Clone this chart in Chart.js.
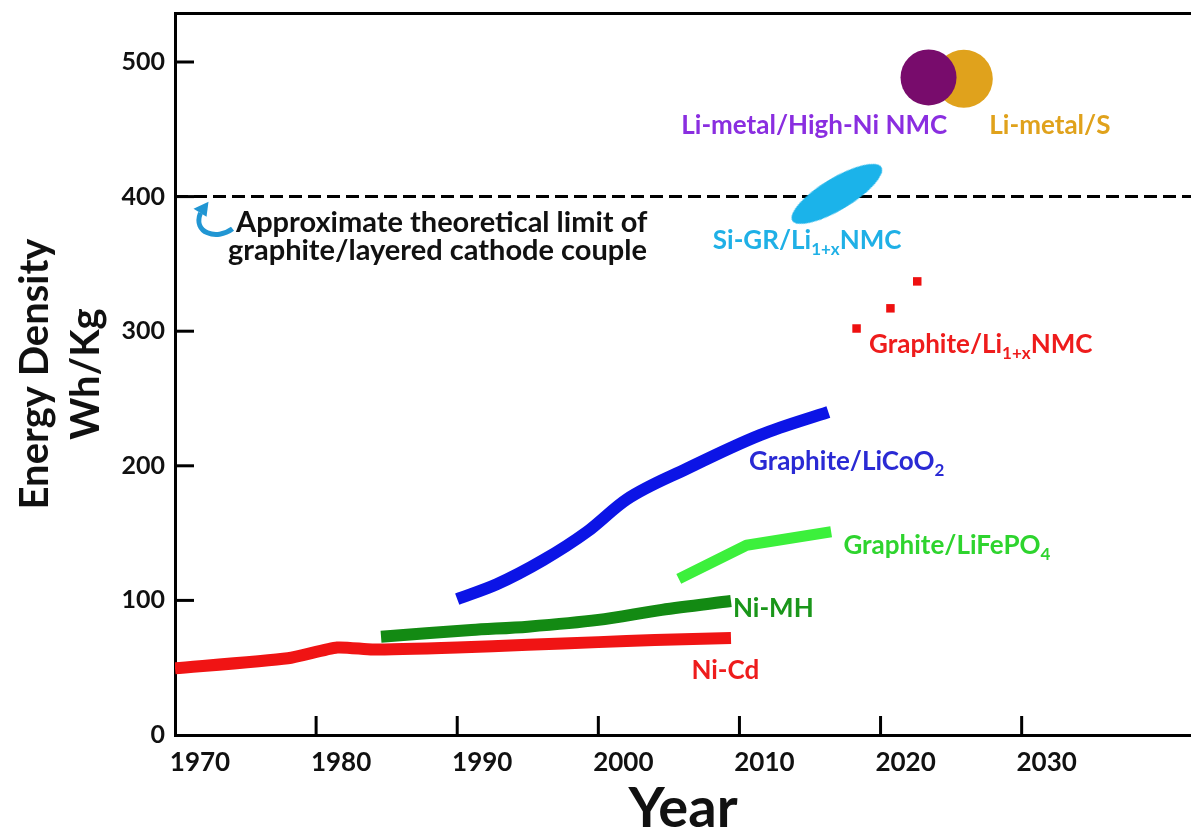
<!DOCTYPE html>
<html>
<head>
<meta charset="utf-8">
<script src="https://cdn.jsdelivr.net/npm/chart.js@4.4.1/dist/chart.umd.min.js"></script>
<style>
  html, body { margin: 0; padding: 0; background: #fff; }
  #c { display: block; }
</style>
</head>
<body>
<canvas id="c" width="1191" height="840"></canvas>
<script>
// ticks
const xTicks = [1970, 1980, 1990, 2000, 2010, 2020, 2030];
const yTicks = [0, 100, 200, 300, 400, 500];

// Ni-Cd
const niCdYears = [1970, 1978, 1981.5, 1984, 1990, 1995, 2000, 2004, 2009.4];
const niCdWh = [49.5, 57, 65, 63.5, 65, 67, 69, 70.5, 72];
// Ni-MH
const niMhYears = [1984.6, 1991, 1995, 2000, 2004.5, 2009.4];
const niMhWh = [73, 78, 80.5, 85.5, 93, 99.5];
// Graphite/LiCoO2
const licoYears = [1990, 1992.8, 1996.1, 1999.2, 2002, 2006.3, 2011.5, 2016.3];
const licoWh = [101, 112, 130, 151, 175, 198, 223, 240];
// Graphite/LiFePO4
const lfpYears = [2005.7, 2010.5, 2016.5];
const lfpWh = [116, 141, 151];
// Graphite/Li1+xNMC squares
const nmcYears = [2018.3, 2020.7, 2022.6];
const nmcWh = [302, 317, 337];
// Si-GR/Li1+xNMC ellipse
const siGrYears = [2016.9];
const siGrWh = [402];
// Li-metal cells
const liNmcYears = [2023.4];
const liNmcWh = [488.5];
const liSYears = [2025.9];
const liSWh = [487.5];
// theoretical limit
const limitYears = [1970, 2042];
const limitWh = [400, 400];

function pts(xs, ys) {
  return xs.map(function (x, i) { return { x: x, y: ys[i] }; });
}

// ellipse used as point style for the Si-GR blob
const ellipse = document.createElement('canvas');
ellipse.width = 106;
ellipse.height = 34;
(function () {
  const g = ellipse.getContext('2d');
  g.fillStyle = '#1bb3ea';
  g.beginPath();
  g.ellipse(53, 17, 52, 16, 0, 0, Math.PI * 2);
  g.fill();
})();

// text labels, positioned in data units
const notes = [
  { parts: [['Li-metal/High-Ni NMC']], x: 2015.3, y: 453, color: '#8a2ee0', size: 26 },
  { parts: [['Li-metal/S']], x: 2032.0, y: 453, color: '#e0a21c', size: 26 },
  { parts: [['Si-GR/Li'], ['1+x', 1], ['NMC']], x: 2014.8, y: 367, color: '#1fb0e6', size: 26 },
  { parts: [['Graphite/Li'], ['1+x', 1], ['NMC']], x: 2027.1, y: 290, color: '#ee1c1c', size: 26 },
  { parts: [['Graphite/LiCoO'], ['2', 1]], x: 2017.6, y: 203, color: '#2a2ad4', size: 26 },
  { parts: [['Graphite/LiFePO'], ['4', 1]], x: 2024.7, y: 141, color: '#2ed42e', size: 26 },
  { parts: [['Ni-MH']], x: 2012.4, y: 94, color: '#1a961a', size: 26 },
  { parts: [['Ni-Cd']], x: 2009.0, y: 48, color: '#ee1c1c', size: 26 },
  { parts: [['Approximate theoretical limit of']], x: 1988.9, y: 381, color: '#111', size: 29 },
  { parts: [['graphite/layered cathode couple']], x: 1988.6, y: 359.5, color: '#111', size: 29 }
];
const arrowAt = { x: 1972.8, y: 382 };

const FONT = 'Lato, "Open Sans", sans-serif';

function noPad(s) {
  s.paddingTop = 0; s.paddingBottom = 0; s.paddingLeft = 0; s.paddingRight = 0;
}

const notesPlugin = {
  id: 'notes',
  beforeDraw(chart) {
    const ctx = chart.ctx;
    ctx.save();
    ctx.fillStyle = '#fff';
    ctx.fillRect(0, 0, chart.width, chart.height);
    ctx.restore();
  },
  afterDraw(chart) {
    const ctx = chart.ctx;
    const xs = chart.scales.x, ys = chart.scales.y;
    const area = chart.chartArea;
    ctx.save();
    // inner tick marks
    ctx.strokeStyle = '#000';
    ctx.lineWidth = 3;
    xTicks.forEach(function (v) {
      if (v === xs.min) return;
      const px = xs.getPixelForValue(v);
      ctx.beginPath();
      ctx.moveTo(px, area.bottom);
      ctx.lineTo(px, area.bottom - 19);
      ctx.stroke();
    });
    yTicks.forEach(function (v) {
      if (v === 0) return;
      const py = ys.getPixelForValue(v);
      ctx.beginPath();
      ctx.moveTo(area.left, py);
      ctx.lineTo(area.left + 19, py);
      ctx.stroke();
    });

    // labels
    ctx.textBaseline = 'middle';
    ctx.textAlign = 'left';
    notes.forEach(function (n) {
      const sub = Math.round(n.size * 0.64);
      let total = 0;
      n.parts.forEach(function (p) {
        ctx.font = 'bold ' + (p[1] ? sub : n.size) + 'px ' + FONT;
        total += ctx.measureText(p[0]).width;
      });
      let px = xs.getPixelForValue(n.x) - total / 2;
      const py = ys.getPixelForValue(n.y);
      ctx.fillStyle = n.color;
      n.parts.forEach(function (p) {
        ctx.font = 'bold ' + (p[1] ? sub : n.size) + 'px ' + FONT;
        ctx.fillText(p[0], px, p[1] ? py + 9 : py);
        px += ctx.measureText(p[0]).width;
      });
    });

    // curved arrow pointing at the limit line
    const ax = xs.getPixelForValue(arrowAt.x), ay = ys.getPixelForValue(arrowAt.y);
    ctx.strokeStyle = '#2196d3';
    ctx.fillStyle = '#2196d3';
    ctx.lineWidth = 5;
    ctx.beginPath();
    ctx.moveTo(ax + 18, ay + 8);
    ctx.bezierCurveTo(ax + 2, ay + 20, ax - 22, ay + 12, ax - 14, ay - 8);
    ctx.stroke();
    ctx.beginPath();
    ctx.moveTo(ax - 6, ay - 19);
    ctx.lineTo(ax - 21, ay - 12);
    ctx.lineTo(ax - 8, ay - 4);
    ctx.closePath();
    ctx.fill();
    ctx.restore();
  }
};

const thick = { pointRadius: 0, borderCapStyle: 'butt', borderJoinStyle: 'round', fill: false };

new Chart(document.getElementById('c'), {
  type: 'line',
  data: {
    datasets: [
      Object.assign({ label: 'Ni-Cd', data: pts(niCdYears, niCdWh), borderColor: '#f01414', borderWidth: 12, tension: 0.2, order: 5 }, thick),
      Object.assign({ label: 'Ni-MH', data: pts(niMhYears, niMhWh), borderColor: '#138a13', borderWidth: 12, tension: 0.3, order: 5 }, thick),
      Object.assign({ label: 'Graphite/LiCoO2', data: pts(licoYears, licoWh), borderColor: '#0c14e6', borderWidth: 12, cubicInterpolationMode: 'monotone', order: 5 }, thick),
      Object.assign({ label: 'Graphite/LiFePO4', data: pts(lfpYears, lfpWh), borderColor: '#3cf03c', borderWidth: 11, tension: 0, order: 5 }, thick),
      { label: 'limit', data: pts(limitYears, limitWh), borderColor: '#000', borderWidth: 3, borderDash: [13, 6], pointRadius: 0, order: 6 },
      { label: 'Graphite/Li1+xNMC', data: pts(nmcYears, nmcWh), showLine: false, pointStyle: 'rect', pointRadius: 6, backgroundColor: '#ee1010', borderWidth: 0, order: 4 },
      { label: 'Si-GR/Li1+xNMC', data: pts(siGrYears, siGrWh), showLine: false, pointStyle: ellipse, pointRotation: -31, order: 3 },
      { label: 'Li-metal/High-Ni NMC', data: pts(liNmcYears, liNmcWh), showLine: false, pointStyle: 'circle', pointRadius: 28, backgroundColor: '#780c6c', borderWidth: 0, order: 1 },
      { label: 'Li-metal/S', data: pts(liSYears, liSWh), showLine: false, pointStyle: 'circle', pointRadius: 29, backgroundColor: '#e0a21c', borderWidth: 0, order: 2 }
    ]
  },
  options: {
    responsive: false,
    animation: false,
    devicePixelRatio: 1,
    layout: { padding: 0, autoPadding: false },
    plugins: { legend: { display: false }, tooltip: { enabled: false } },
    scales: {
      x: {
        type: 'linear', position: 'bottom', min: 1970, max: 2042,
        afterFit: function (s) { s.height = 105; noPad(s); },
        afterBuildTicks: function (s) { s.ticks = xTicks.map(function (v) { return { value: v }; }); },
        grid: { display: false, drawTicks: false },
        border: { display: true, color: '#000', width: 3 },
        ticks: { color: '#111', font: { family: FONT, weight: 'bold', size: 26 }, padding: 12, labelOffset: 25, maxRotation: 0, autoSkip: false,
          callback: function (v) { return String(v); } },
        title: { display: true, text: 'Year', color: '#111', font: { family: FONT, weight: 'bold', size: 56, lineHeight: 1.1 }, padding: { top: 0, bottom: 0 } }
      },
      top: {
        type: 'linear', position: 'top', min: 1970, max: 2042,
        afterFit: function (s) { s.height = 13; noPad(s); },
        grid: { display: false, drawTicks: false },
        ticks: { display: false },
        border: { display: true, color: '#000', width: 3 }
      },
      y: {
        type: 'linear', position: 'left', min: 0, max: 536.4,
        afterFit: function (s) { s.width = 175; noPad(s); },
        afterBuildTicks: function (s) { s.ticks = yTicks.map(function (v) { return { value: v }; }); },
        grid: { display: false, drawTicks: false },
        border: { display: true, color: '#000', width: 3 },
        ticks: { color: '#111', font: { family: FONT, weight: 'bold', size: 25 }, padding: 10,
          callback: function (v) { return String(v); } },
        title: { display: true, text: ['Energy Density', 'Wh/Kg'], color: '#111', font: { family: FONT, weight: 'bold', size: 40, lineHeight: 1.28 }, padding: { top: 9, bottom: 0 } }
      }
    }
  },
  plugins: [notesPlugin]
});
</script>
</body>
</html>
